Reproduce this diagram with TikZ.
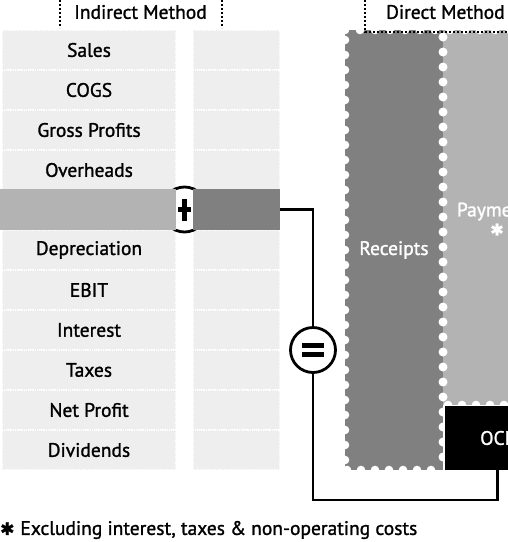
\documentclass[tikz,border=0pt]{standalone}
\usepackage{fontspec}
\setmainfont{PT Sans}[RawFeature={embolden=1.3}]
\newfontfamily\symfont{DejaVu Sans}[RawFeature={embolden=1.5}]
\usetikzlibrary{positioning}
\definecolor{cellgray}{HTML}{EEEEEE}
\definecolor{midgray}{HTML}{B3B3B3}
\definecolor{stampgray}{HTML}{808080}
\tikzset{
    txt/.style={font=\fontsize{19.5}{21}\selectfont, inner sep=0pt},
    cell/.style={txt, fill=cellgray, draw=white, densely dotted, line width=1.2pt,
        minimum height=40pt},
    bar/.style={minimum height=41pt, inner sep=0pt},
    op/.style={circle, draw, fill=white, line width=2.8pt, minimum size=45pt, inner sep=0pt},
    opplus/.style={op, path picture={
        \draw[line width=4.5pt] ([yshift=-11pt]path picture bounding box.center)
            -- ([yshift=11pt]path picture bounding box.center);
        \draw[line width=4.5pt] ([xshift=-6.5pt]path picture bounding box.center)
            -- ([xshift=6.5pt]path picture bounding box.center);}},
    opequal/.style={op, path picture={
        \draw[line width=4.5pt] ([xshift=-11pt,yshift=4.5pt]path picture bounding box.center)
            -- ([xshift=11pt,yshift=4.5pt]path picture bounding box.center);
        \draw[line width=4.5pt] ([xshift=-11pt,yshift=-4.5pt]path picture bounding box.center)
            -- ([xshift=11pt,yshift=-4.5pt]path picture bounding box.center);}},
    stamp/.style={txt, text=white, inner sep=0pt, align=center},
    hdr/.style={dotted, line width=2pt},
    link/.style={line width=2.8pt},
    perf/.style={fill=white}
}
\newcommand{\perfrow}[3]{
    \foreach \p in {#2} \fill[perf] (\p,#1) circle (#3);
}
\newcommand{\perfcol}[3]{
    \foreach \p in {#2} \fill[perf] (#1,\p) circle (#3);
}
\begin{document}
\begin{tikzpicture}[x=1pt,y=-1pt]
	\useasboundingbox (0,0) rectangle (508,542);
	\clip (0,0) rectangle (508,542);

	% Headers
	\node[txt] (indirect) at (140.5,12) {Indirect Method};
	\draw[hdr] (60,0) -- (60,28);
	\draw[hdr] (222,0) -- (222,28);
	\node[txt, anchor=west] (direct) at (386,12) {Direct Method};

	% Indirect side
	\foreach \k/\t in {1/Sales,2/COGS,3/Gross Profits,4/Overheads,6/Depreciation,
	        7/EBIT,8/Interest,9/Taxes,10/Net Profit,11/Dividends} {
		\node[cell, minimum width=174pt] (inc\k) at (89,10+40*\k) {\t};
		\node[cell, minimum width=87pt] (adj\k) at (236.5,10+40*\k) {};
	}
	\node[opplus] (plus) at (184.5,209.5) {};
	\node[bar, fill=midgray, minimum width=176pt] (ebitda) at (88,209.5) {};
	\node[bar, fill=stampgray, minimum width=87pt] (cash) at (236.5,209.5) {};

	% Direct side
	\node[stamp, fill=stampgray, minimum width=98pt, minimum height=440pt] (receipts) at (394,250) {};
	\node[txt, text=white] at (receipts.center) {Receipts};
	\node[stamp, fill=midgray, minimum width=109pt, minimum height=375pt] (payments) at (497.5,217.5) {};
	\node[txt, text=white, align=center] at (497,219) {Payments\\[-2pt]{\symfont\fontsize{16}{16}\selectfont ✱}};
	\perfrow{30}{345,360,...,510}{4.3pt}
	\perfrow{470}{347,361,...,440}{4.3pt}
	\perfcol{345}{40,55,...,470}{4.3pt}
	\perfcol{443}{37,52,...,470}{4.5pt}
	\perfrow{405}{448,462,...,510}{4.3pt}
	\node[stamp, fill=black, minimum width=105pt, minimum height=64pt] (ocf) at (497.5,438) {OCF};
	\draw[hdr] (365,0) -- (365,32) -- (510,32);

	% Links
	\node[opequal] (eq) at (313,350) {};
	\draw[link] (cash.east) -| (eq.north);
	\draw[link] (eq.south) -- (eq.south |- 0,500) -| (ocf.south);

	% Footnote
	\node[txt, anchor=west] (note) at (0,530) {{\symfont\fontsize{17}{17}\selectfont ✱}\hspace{6pt}Excluding interest, taxes \& non-operating costs};
\end{tikzpicture}
\end{document}
